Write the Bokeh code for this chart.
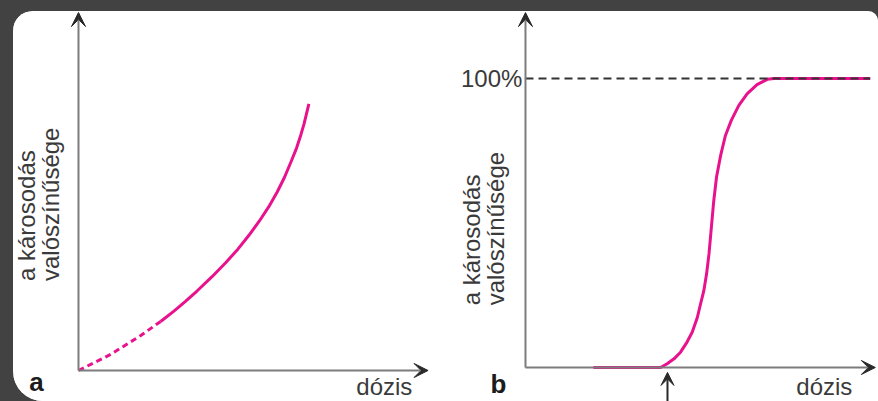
from bokeh.plotting import figure
from bokeh.layouts import row
from bokeh.models import Range1d, Arrow, VeeHead, Label
from bokeh.embed import file_html
from bokeh.resources import INLINE
import math

# ---------------- data ----------------
# panel a: stochastic effect (probability rises with dose, no threshold)
dose_a_dashed = [0.0, 0.92, 1.77, 2.35]
risk_a_dashed = [0.0, 0.45, 0.97, 1.37]
dose_a = [2.35, 2.73, 3.06, 3.39, 3.82, 4.21, 4.56, 4.87, 5.17, 5.44, 5.68, 5.89, 6.08, 6.24, 6.36, 6.45, 6.59]
risk_a = [1.37, 1.66, 1.93, 2.22, 2.62, 3.01, 3.39, 3.77, 4.17, 4.57, 4.98, 5.39, 5.83, 6.22, 6.58, 6.88, 7.45]

# panel b: deterministic effect (threshold, sigmoid up to 100 %)
dose_b = [1.98, 3.94, 4.13, 4.33, 4.52, 4.71, 4.86, 5.01, 5.10, 5.20, 5.28, 5.35, 5.42, 5.49, 5.57,
          5.69, 5.83, 6.00, 6.22, 6.46, 6.75, 7.05, 7.24, 10.05]
risk_b = [0.0, 0.0, 1.3, 3.0, 5.3, 8.8, 12.2, 17.3, 21.8, 26.6, 32.4, 39.3, 48.6, 57.8, 65.9,
          73.4, 80.3, 85.5, 90.7, 94.7, 97.9, 99.7, 100.0, 100.0]
max_level = 100
threshold_dose = 4.14

axis_label_x = "dózis"
axis_label_y1 = "a károsodás"
axis_label_y2 = "valószínűsége"
panel_labels = ["a", "b"]
max_label = "100%"

# ---------------- styles ----------------
PINK = "#e8128c"
AXIS = "#7c7c7c"
HEAD = "#2a2a2a"
TEXT = "#3a3a3a"
FONT = "Liberation Sans"
DARK = "#424242"


def base_fig(w, h, xr, yr):
    p = figure(width=w, height=h, x_range=Range1d(*xr), y_range=Range1d(*yr),
               output_backend="svg", toolbar_location=None, min_border=0,
               background_fill_color="white", border_fill_color="white",
               outline_line_color=None)
    p.xaxis.visible = False
    p.yaxis.visible = False
    p.xgrid.visible = False
    p.ygrid.visible = False
    return p


def add_axes(p, xmax, ymax):
    p.add_layout(Arrow(x_start=0, y_start=0, x_end=xmax, y_end=0, line_color=AXIS, line_width=2,
                       end=VeeHead(size=14, fill_color=HEAD, line_color=HEAD, line_width=1)))
    p.add_layout(Arrow(x_start=0, y_start=0, x_end=0, y_end=ymax, line_color=AXIS, line_width=2,
                       end=VeeHead(size=14, fill_color=HEAD, line_color=HEAD, line_width=1)))


def lbl(p, x, y, text, **kw):
    opts = dict(text_font=FONT, text_font_size="24px", text_color=TEXT)
    opts.update(kw)
    p.add_layout(Label(x=x, y=y, text=text, **opts))


# ---------------- panel a ----------------
p1 = base_fig(432, 390, (-1.859, 10.498), (-0.866, 10.028))
add_axes(p1, 10.0, 10.0)
p1.line(dose_a_dashed, risk_a_dashed, line_color=PINK, line_width=3, line_dash="6 4")
p1.line(dose_a, risk_a, line_color=PINK, line_width=3)
lbl(p1, -1.50, 2.5, axis_label_y1, angle=math.pi / 2, text_align="left", text_baseline="middle")
lbl(p1, -0.81, 2.5, axis_label_y2, angle=math.pi / 2, text_align="left", text_baseline="middle")
lbl(p1, 9.55, -0.45, axis_label_x, text_align="right", text_baseline="alphabetic")
lbl(p1, -1.2, -0.31, panel_labels[0], text_align="center", text_baseline="middle",
    text_font_style="bold", text_color="#1c1c1c", text_font_size="26px")

# ---------------- panel b ----------------
p2 = base_fig(433, 390, (-2.332, 10.292), (-11.765, 123.18))
add_axes(p2, 10.2, 122.8)
p2.line(dose_b, risk_b, line_color=PINK, line_width=3)
p2.segment(x0=[0], y0=[max_level], x1=[dose_b[-1]], y1=[max_level],
           line_color="#333333", line_width=2, line_dash="8 5")
p2.add_layout(Arrow(x_start=threshold_dose, y_start=-12.5, x_end=threshold_dose, y_end=-1.7,
                    line_color=HEAD, line_width=2,
                    end=VeeHead(size=13, fill_color=HEAD, line_color=HEAD, line_width=1)))
lbl(p2, -0.09, max_level, max_label, text_align="right", text_baseline="middle")
lbl(p2, -1.58, 21.5, axis_label_y1, angle=math.pi / 2, text_align="left", text_baseline="middle")
lbl(p2, -0.86, 21.5, axis_label_y2, angle=math.pi / 2, text_align="left", text_baseline="middle")
lbl(p2, 9.53, -6.6, axis_label_x, text_align="right", text_baseline="alphabetic")
lbl(p2, -0.79, -5.6, panel_labels[1], text_align="center", text_baseline="middle",
    text_font_style="bold", text_color="#1c1c1c", text_font_size="26px")

inner = row(p1, p2, styles={"border-radius": "20px 10px 0 30px", "overflow": "hidden",
                            "background-color": "white"})
layout = row(inner, styles={"background-color": DARK, "padding": "11px 0 0 13px"})

open("out.html", "w").write(file_html(layout, INLINE))
